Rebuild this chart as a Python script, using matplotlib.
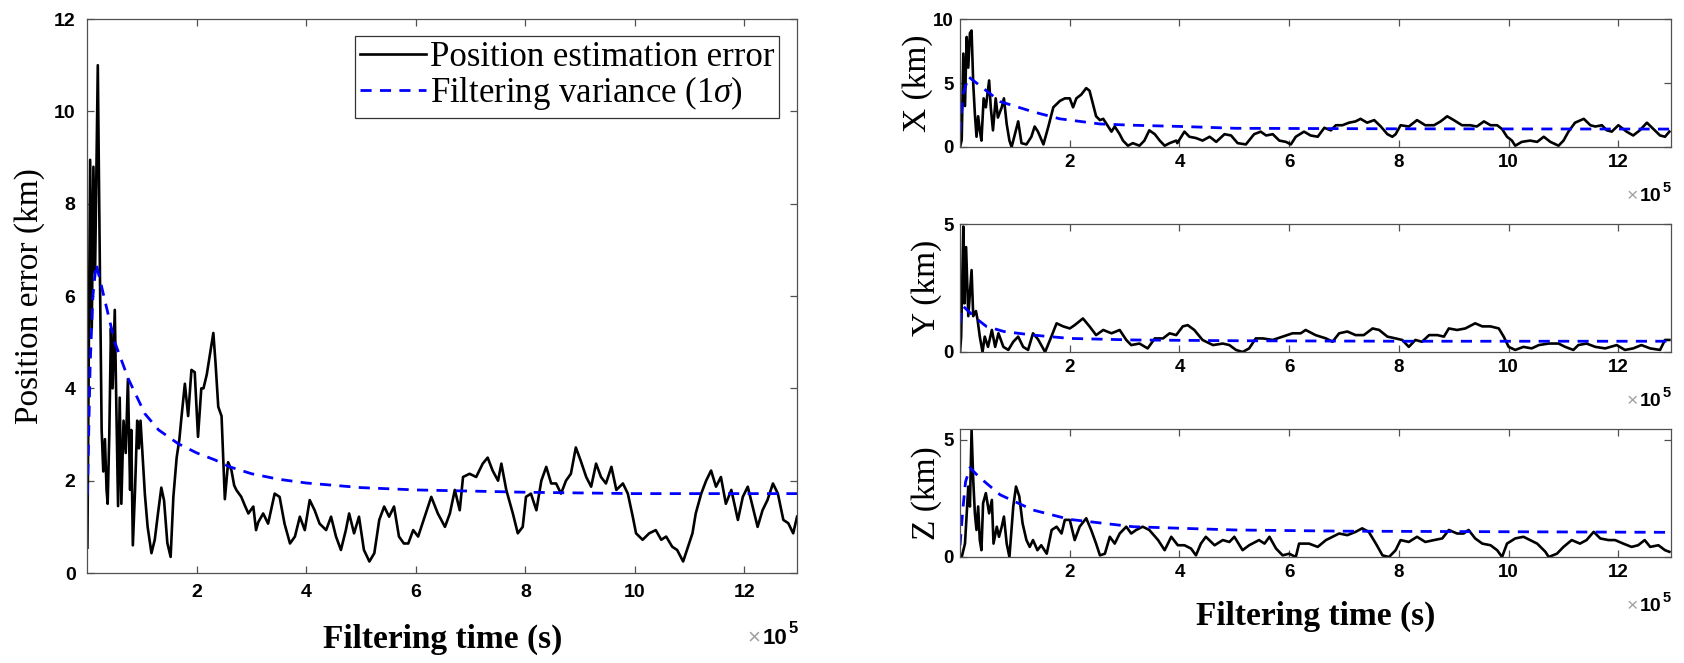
import matplotlib
matplotlib.use('Agg')
import matplotlib.pyplot as plt
import matplotlib.transforms as mtransforms
import numpy as np

# time axis in units of 1e5 s, errors in km
# ---- left panel: total position error ----
pos_t = [0.0, 0.05, 0.08, 0.11, 0.14, 0.19, 0.23, 0.26, 0.29, 0.32, 0.35, 0.37, 0.40, 0.43,
         0.46, 0.50, 0.53, 0.56, 0.59, 0.62, 0.66, 0.70, 0.74, 0.78, 0.80, 0.83, 0.87, 0.91,
         0.94, 0.97, 1.01, 1.05, 1.10, 1.17, 1.23, 1.29, 1.35, 1.40, 1.46, 1.52, 1.57, 1.63,
         1.68, 1.72, 1.78, 1.84, 1.90, 1.96, 2.02, 2.08, 2.12, 2.18, 2.24, 2.30, 2.34, 2.39,
         2.45, 2.51, 2.57, 2.63, 2.68, 2.72, 2.81, 2.88, 2.94, 3.03, 3.08, 3.12, 3.21, 3.30,
         3.42, 3.51, 3.60, 3.70, 3.79, 3.88, 3.97, 4.06, 4.15, 4.24, 4.36, 4.45, 4.54, 4.63,
         4.72, 4.78, 4.87, 4.96, 5.05, 5.15, 5.24, 5.33, 5.42, 5.51, 5.60, 5.69, 5.78, 5.86,
         5.95, 6.04, 6.16, 6.28, 6.40, 6.53, 6.62, 6.71, 6.80, 6.86, 6.98, 7.10, 7.22, 7.31,
         7.40, 7.50, 7.56, 7.65, 7.77, 7.86, 7.95, 8.01, 8.10, 8.20, 8.29, 8.38, 8.47, 8.56,
         8.65, 8.74, 8.83, 8.92, 9.01, 9.11, 9.20, 9.29, 9.38, 9.47, 9.57, 9.66, 9.78, 9.87,
         9.96, 10.02, 10.14, 10.26, 10.38, 10.48, 10.57, 10.68, 10.77, 10.88, 10.95, 11.05,
         11.11, 11.21, 11.30, 11.39, 11.48, 11.57, 11.66, 11.76, 11.88, 11.97, 12.06, 12.15,
         12.24, 12.33, 12.42, 12.52, 12.61, 12.71, 12.80, 12.89, 12.96]
pos_err = [0.55, 8.95, 5.3, 8.8, 6.5, 11.0, 6.35, 3.1, 2.2, 2.9, 1.8, 1.5, 3.0, 5.3,
           4.0, 5.7, 3.5, 1.45, 3.8, 1.5, 3.3, 2.6, 4.2, 1.8, 3.1, 0.6, 1.8, 3.3,
           2.7, 3.3, 2.5, 1.7, 1.0, 0.43, 0.72, 1.3, 1.85, 1.57, 0.65, 0.35, 1.65, 2.5,
           2.9, 3.4, 4.1, 3.4, 4.4, 4.35, 2.95, 4.0, 4.0, 4.3, 4.75, 5.2, 4.55, 3.6,
           3.4, 1.6, 2.4, 2.23, 1.9, 1.8, 1.65, 1.45, 1.29, 1.44, 0.93, 1.1, 1.29, 1.07,
           1.72, 1.65, 1.07, 0.64, 0.79, 1.22, 0.93, 1.58, 1.36, 1.07, 0.93, 1.22, 0.79, 0.5,
           0.93, 1.29, 0.86, 1.22, 0.5, 0.25, 0.43, 1.15, 1.44, 1.22, 1.44, 0.79, 0.64, 0.64,
           0.93, 0.79, 1.22, 1.65, 1.29, 1.0, 1.29, 1.8, 1.36, 2.08, 2.15, 2.08, 2.37, 2.5,
           2.22, 2.0, 2.37, 1.8, 1.29, 0.86, 1.0, 1.65, 1.72, 1.36, 2.0, 2.3, 1.94, 1.94,
           1.72, 2.0, 2.15, 2.72, 2.43, 2.08, 1.87, 2.37, 2.08, 1.94, 2.3, 1.8, 1.94, 1.72,
           1.22, 0.86, 0.72, 0.86, 0.93, 0.72, 0.79, 0.57, 0.5, 0.25, 0.5, 0.86,
           1.29, 1.72, 2.0, 2.22, 1.87, 2.08, 1.5, 1.8, 1.15, 1.65, 1.87, 1.43,
           1.0, 1.36, 1.58, 1.94, 1.72, 1.15, 1.08, 0.86, 1.22]
sig_t = [0.0, 0.05, 0.1, 0.16, 0.3, 0.5, 0.75, 1.05, 1.3, 1.66, 2.0, 2.33, 2.6, 3.0,
         3.5, 4.0, 5.0, 6.0, 8.0, 10.0, 12.96]
pos_sig = [1.7, 4.5, 6.0, 6.7, 6.0, 5.0, 4.2, 3.45, 3.1, 2.8, 2.6, 2.45, 2.3, 2.15,
           2.03, 1.95, 1.85, 1.8, 1.75, 1.72, 1.72]

# ---- right panels: X / Y / Z components ----
x_t = [0.0, 0.03, 0.06, 0.09, 0.12, 0.15, 0.18, 0.21, 0.24, 0.27, 0.30, 0.33, 0.36, 0.39,
       0.43, 0.47, 0.53, 0.56, 0.60, 0.65, 0.69, 0.76, 0.80, 0.85, 0.90, 0.94, 1.0, 1.06,
       1.12, 1.21, 1.30, 1.36, 1.42, 1.52, 1.61, 1.70, 1.82, 1.91, 2.0, 2.06, 2.12, 2.21,
       2.30, 2.36, 2.42, 2.48, 2.55, 2.61, 2.70, 2.76, 2.82, 2.91, 2.97, 3.06, 3.15, 3.27,
       3.36, 3.45, 3.55, 3.64, 3.73, 3.82, 3.94, 3.96, 4.09, 4.18, 4.30, 4.42, 4.55, 4.67,
       4.82, 4.94, 5.06, 5.21, 5.36, 5.48, 5.58, 5.70, 5.82, 5.94, 6.03, 6.12, 6.27, 6.39,
       6.52, 6.64, 6.76, 6.85, 6.97, 7.09, 7.21, 7.30, 7.42, 7.55, 7.67, 7.79, 7.88, 7.94,
       8.03, 8.18, 8.33, 8.48, 8.64, 8.76, 8.88, 9.00, 9.15, 9.30, 9.42, 9.55, 9.67, 9.79,
       9.88, 9.97, 10.06, 10.12, 10.24, 10.39, 10.52, 10.64, 10.76, 10.91, 11.0, 11.09,
       11.21, 11.37, 11.49, 11.58, 11.70, 11.79, 11.88, 12.0, 12.15, 12.27, 12.39, 12.52,
       12.64, 12.76, 12.85, 12.93]
x_err = [0.0, 0.55, 7.3, 3.2, 8.6, 6.2, 8.9, 9.1, 5.0, 2.6, 0.8, 2.4, 1.3, 0.5,
         3.8, 3.1, 5.2, 3.1, 1.3, 3.8, 2.3, 3.1, 3.8, 1.8, 0.5, 0.0, 1.0, 2.0,
         0.3, 0.2, 0.8, 1.6, 1.2, 0.2, 1.6, 3.1, 3.6, 3.8, 3.8, 3.1, 3.8, 4.1,
         4.6, 4.4, 3.4, 2.4, 2.1, 2.2, 1.6, 1.2, 1.6, 1.0, 0.5, 0.1, 0.3, 0.1,
         0.5, 1.3, 1.0, 0.5, 0.1, 0.3, 0.5, 0.3, 1.2, 0.8, 0.7, 0.5, 0.8, 0.4,
         1.0, 0.9, 0.3, 0.2, 1.0, 1.2, 0.9, 1.0, 0.5, 0.4, 0.2, 0.8, 1.2, 0.9,
         0.8, 1.5, 1.3, 1.7, 1.7, 1.9, 2.0, 2.2, 1.9, 2.1, 1.6, 1.0, 0.8, 1.0,
         1.7, 1.6, 2.1, 1.7, 1.7, 2.0, 2.4, 2.1, 1.7, 1.7, 1.6, 2.0, 1.7, 1.7,
         1.4, 0.8, 0.5, 0.1, 0.4, 0.5, 0.4, 0.8, 0.4, 0.1, 0.5, 1.2,
         1.9, 2.2, 1.7, 1.6, 1.7, 1.3, 1.2, 1.7, 1.2, 0.9, 1.3, 1.9,
         1.4, 0.9, 0.8, 1.2]
x_sig_t = [0.0, 0.05, 0.15, 0.3, 0.73, 1.33, 1.82, 2.55, 3.15, 4.06, 5.03, 8.0, 12.96]
x_sig = [1.1, 4.0, 5.5, 5.0, 3.55, 2.75, 2.2, 1.8, 1.7, 1.6, 1.46, 1.42, 1.4]

y_t = [0.0, 0.02, 0.06, 0.08, 0.11, 0.15, 0.21, 0.24, 0.29, 0.32, 0.36, 0.41, 0.45, 0.51,
       0.58, 0.64, 0.70, 0.79, 0.88, 0.97, 1.06, 1.15, 1.24, 1.33, 1.42, 1.55, 1.64, 1.76,
       1.88, 2.0, 2.09, 2.24, 2.36, 2.48, 2.61, 2.76, 2.91, 3.03, 3.12, 3.27, 3.42, 3.55,
       3.70, 3.82, 3.94, 4.06, 4.15, 4.27, 4.42, 4.61, 4.79, 4.91, 5.03, 5.15, 5.27, 5.39,
       5.52, 5.70, 5.88, 6.06, 6.21, 6.30, 6.48, 6.67, 6.79, 6.91, 7.06, 7.21, 7.36, 7.52,
       7.64, 7.79, 7.94, 8.06, 8.18, 8.30, 8.42, 8.55, 8.70, 8.82, 8.91, 9.06, 9.21, 9.39,
       9.52, 9.67, 9.82, 9.91, 10.0, 10.12, 10.27, 10.42, 10.55, 10.73, 10.91, 11.03,
       11.18, 11.27, 11.42, 11.58, 11.76, 11.97, 12.12, 12.27, 12.42, 12.58, 12.76, 12.85,
       12.93]
y_err = [0.0, 0.6, 4.9, 1.9, 4.1, 1.4, 3.2, 1.4, 1.6, 1.25, 0.6, 0.0, 0.6, 0.2,
         0.86, 0.2, 0.73, 0.2, 0.08, 0.4, 0.6, 0.2, 0.08, 0.73, 0.5, 0.0, 0.47, 1.12,
         1.0, 0.92, 1.05, 1.31, 1.0, 0.66, 0.86, 0.73, 0.86, 0.47, 0.27, 0.33, 0.14, 0.53,
         0.53, 0.73, 0.66, 1.0, 1.05, 0.86, 0.47, 0.27, 0.33, 0.27, 0.08, 0.0, 0.14, 0.53,
         0.53, 0.47, 0.6, 0.73, 0.73, 0.86, 0.66, 0.53, 0.4, 0.73, 0.8, 0.66, 0.66, 0.92,
         0.86, 0.6, 0.53, 0.47, 0.2, 0.47, 0.4, 0.66, 0.66, 0.6, 0.92, 0.86, 0.92, 1.12,
         1.0, 1.0, 0.92, 0.6, 0.2, 0.08, 0.2, 0.14, 0.27, 0.33, 0.33, 0.2,
         0.08, 0.27, 0.33, 0.2, 0.14, 0.27, 0.08, 0.14, 0.27, 0.14, 0.08, 0.47,
         0.47]
y_sig_t = [0.0, 0.05, 0.15, 0.3, 0.48, 0.8, 1.33, 2.0, 3.15, 5.0, 8.0, 12.96]
y_sig = [1.1, 1.8, 1.6, 1.3, 1.0, 0.8, 0.66, 0.53, 0.47, 0.44, 0.42, 0.42]

z_t = [0.0, 0.03, 0.09, 0.15, 0.18, 0.21, 0.24, 0.27, 0.30, 0.33, 0.36, 0.39, 0.42, 0.47,
       0.53, 0.58, 0.61, 0.67, 0.71, 0.76, 0.80, 0.85, 0.90, 0.97, 1.02, 1.08, 1.14, 1.21,
       1.27, 1.33, 1.41, 1.48, 1.58, 1.67, 1.76, 1.85, 1.91, 2.0, 2.09, 2.18, 2.30, 2.39,
       2.48, 2.55, 2.64, 2.73, 2.82, 2.91, 3.03, 3.12, 3.21, 3.33, 3.45, 3.61, 3.73, 3.85,
       3.97, 4.09, 4.21, 4.30, 4.39, 4.48, 4.64, 4.79, 4.91, 5.0, 5.15, 5.27, 5.45, 5.55,
       5.64, 5.76, 5.88, 6.0, 6.12, 6.18, 6.36, 6.52, 6.67, 6.79, 6.91, 7.06, 7.21, 7.33,
       7.45, 7.58, 7.70, 7.82, 7.94, 8.03, 8.18, 8.33, 8.48, 8.64, 8.79, 8.91, 9.06, 9.18,
       9.27, 9.39, 9.52, 9.67, 9.79, 9.88, 9.97, 10.12, 10.27, 10.39, 10.52, 10.67, 10.73,
       10.88, 11.0, 11.15, 11.30, 11.42, 11.55, 11.67, 11.82, 11.94, 12.09, 12.24, 12.36,
       12.48, 12.58, 12.73, 12.85, 12.93]
z_err = [0.0, 0.0, 0.57, 3.0, 2.15, 5.4, 3.3, 1.86, 1.15, 2.15, 0.72, 0.29, 2.29, 2.72,
         1.86, 2.43, 0.57, 1.29, 0.86, 1.29, 1.72, 0.57, 0.0, 2.15, 3.0, 2.58, 1.43, 0.72,
         0.43, 0.72, 0.29, 0.5, 0.14, 1.15, 1.29, 1.0, 1.58, 1.58, 0.72, 1.29, 1.65, 1.15,
         0.57, 0.07, 0.14, 0.86, 0.57, 1.0, 1.29, 1.0, 1.15, 1.29, 1.15, 0.72, 0.29, 0.86,
         0.5, 0.5, 0.36, 0.07, 0.57, 0.86, 0.5, 0.72, 0.64, 0.86, 0.29, 0.5, 0.72, 0.57,
         0.86, 0.36, 0.07, 0.14, 0.0, 0.57, 0.57, 0.43, 0.72, 0.86, 1.0, 0.93, 1.07, 1.22,
         1.07, 0.57, 0.07, 0.0, 0.29, 0.72, 0.64, 0.86, 0.64, 0.72, 0.79, 1.15, 1.0, 1.0,
         1.15, 0.79, 0.57, 0.5, 0.29, 0.0, 0.57, 0.79, 0.86, 0.72, 0.57, 0.22, 0.0,
         0.14, 0.43, 0.72, 0.57, 0.72, 1.07, 0.79, 0.72, 0.72, 0.57, 0.43, 0.5,
         0.72, 0.43, 0.5, 0.29, 0.22]
z_sig_t = [0.0, 0.05, 0.1, 0.18, 0.35, 0.73, 1.33, 2.0, 3.15, 4.06, 5.03, 7.0, 12.96]
z_sig = [0.5, 2.0, 3.2, 3.8, 3.4, 2.65, 2.0, 1.6, 1.29, 1.22, 1.15, 1.1, 1.05]

SERIF = 'Liberation Serif'
SANS = 'Liberation Sans'
plt.rcParams['mathtext.fontset'] = 'custom'
plt.rcParams['mathtext.it'] = 'Liberation Serif:italic'
plt.rcParams['mathtext.rm'] = 'Liberation Serif'

XLIM = (0, 12.96)
SPINE = '#505050'


def style_axes(ax, tick_size, xpad, ypad):
    ax.set_xlim(*XLIM)
    ax.set_xticks([2, 4, 6, 8, 10, 12])
    ax.tick_params(direction='in', top=True, right=True, length=5, width=0.9,
                   color=SPINE, labelsize=tick_size)
    ax.tick_params(axis='x', pad=xpad)
    ax.tick_params(axis='y', pad=ypad)
    for lab in ax.get_xticklabels() + ax.get_yticklabels():
        lab.set_fontfamily(SANS)
        lab.set_fontweight('bold')
    for s in ax.spines.values():
        s.set_color(SPINE)
        s.set_linewidth(0.9)


def exponent(ax, y, size):
    # MATLAB style "x10^5" under the right end of the x axis
    x = 0.987
    ax.text(x, y, '10', transform=ax.transAxes, ha='right', va='center',
            fontsize=size, fontweight='bold', family=SANS)
    up = mtransforms.offset_copy(ax.transAxes, fig=ax.figure, x=0.5, y=size * 0.45,
                                 units='points')
    ax.text(x, y, '5', transform=up, ha='left', va='center', fontsize=size * 0.75,
            fontweight='bold', family=SANS)
    left = mtransforms.offset_copy(ax.transAxes, fig=ax.figure, x=-(1.12 * size + 1.5),
                                   y=0, units='points')
    ax.text(x, y, '\u00d7', transform=left, ha='right', va='center',
            fontsize=size, color='#a0a0a0', family=SANS)


fig = plt.figure(figsize=(16.84, 6.63), dpi=100)

# left panel
ax = fig.add_axes([0.0519, 0.1357, 0.4214, 0.8356])
ax.plot(pos_t, pos_err, color='black', lw=1.9, label='Position estimation error')
ax.plot(sig_t, pos_sig, color='#0000ff', lw=2.0, dashes=(4, 3),
        label='Filtering variance (1$\\sigma$)')
ax.set_ylim(0, 12)
ax.set_yticks(range(0, 13, 2))
style_axes(ax, 14, 8, 8.5)
ax.set_ylabel('Position error (km)', family=SERIF, fontsize=24)
ax.yaxis.set_label_coords(-0.060, 0.5)
ax.set_xlabel('Filtering time (s)', family=SERIF, fontsize=24, fontweight='bold')
ax.xaxis.set_label_coords(0.5, -0.092)
leg = ax.legend(loc='upper right', bbox_to_anchor=(0.975, 0.969), borderaxespad=0,
                prop={'family': SERIF, 'size': 25}, handlelength=1.9,
                handletextpad=0.1, labelspacing=0.0, borderpad=0.15,
                fancybox=False, framealpha=1)
leg.get_frame().set_edgecolor('#333333')
leg.get_frame().set_linewidth(0.9)
exponent(ax, -0.118, 16)

# right panels
panels = [
    (0.7783, x_t, x_err, x_sig_t, x_sig, 10, [0, 5, 10], 'X (km)', -0.038),
    (0.4691, y_t, y_err, y_sig_t, y_sig, 5, [0, 5], 'Y (km)', -0.025),
    (0.1599, z_t, z_err, z_sig_t, z_sig, 5.45, [0, 5], 'Z (km)', -0.025),
]
for i, (bottom, t, err, st, sg, ytop, yt, lab, lx) in enumerate(panels):
    a = fig.add_axes([0.5701, bottom, 0.4222, 0.193])
    a.plot(t, err, color='black', lw=1.9)
    a.plot(st, sg, color='#0000ff', lw=2.0, dashes=(4, 3))
    a.set_ylim(0, ytop)
    a.set_yticks(yt)
    style_axes(a, 13.5, 5, 4.3)
    a.set_ylabel(lab, family=SERIF, fontsize=24)
    a.yaxis.set_label_coords(lx, 0.5)
    exponent(a, -0.39, 14)
    if i == 2:
        a.set_xlabel('Filtering time (s)', family=SERIF, fontsize=24, fontweight='bold')
        a.xaxis.set_label_coords(0.5, -0.345)

fig.savefig('out.png', dpi=100)
